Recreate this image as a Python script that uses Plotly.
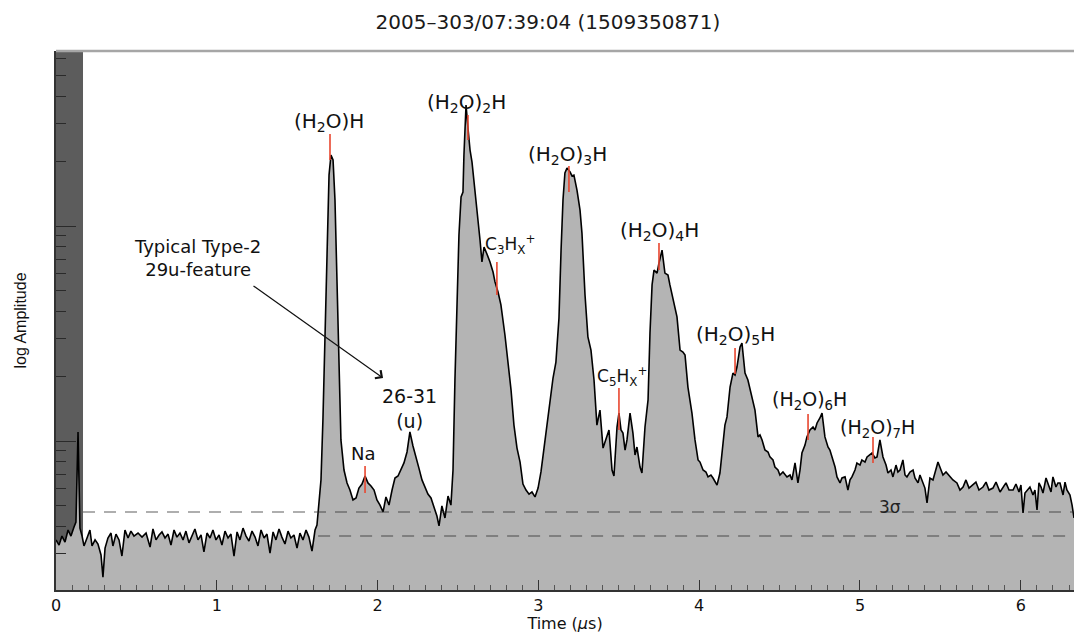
import math
import plotly.graph_objects as go

# ---------------- data ----------------
time_us = [
    0.000, 0.019, 0.037, 0.056, 0.075, 0.093, 0.112, 0.124, 0.137, 0.149, 0.162, 0.174, 0.193, 0.211, 0.224,
    0.243, 0.261, 0.280, 0.292, 0.305, 0.323, 0.342, 0.354, 0.373, 0.392, 0.410, 0.429, 0.448, 0.466, 0.485,
    0.510, 0.535, 0.560, 0.585, 0.603, 0.622, 0.641, 0.659, 0.678, 0.697, 0.715, 0.734, 0.752, 0.771, 0.790,
    0.808, 0.827, 0.846, 0.864, 0.883, 0.902, 0.920, 0.939, 0.958, 0.976, 0.995, 1.014, 1.032, 1.051, 1.070,
    1.088, 1.107, 1.126, 1.144, 1.163, 1.182, 1.200, 1.219, 1.238, 1.256, 1.275, 1.294, 1.312, 1.331, 1.350,
    1.368, 1.387, 1.405, 1.424, 1.443, 1.461, 1.480, 1.499, 1.517, 1.536, 1.555, 1.573, 1.592, 1.611, 1.623,
    1.636, 1.648, 1.660, 1.673, 1.685, 1.698, 1.710, 1.723, 1.735, 1.748, 1.760, 1.772, 1.791, 1.810, 1.828,
    1.847, 1.866, 1.884, 1.903, 1.922, 1.940, 1.959, 1.978, 1.996, 2.015, 2.034, 2.052, 2.071, 2.090, 2.108,
    2.127, 2.146, 2.164, 2.183, 2.201, 2.220, 2.239, 2.257, 2.276, 2.295, 2.313, 2.332, 2.351, 2.369, 2.382,
    2.400, 2.419, 2.438, 2.456, 2.469, 2.481, 2.494, 2.506, 2.519, 2.531, 2.537, 2.550, 2.562, 2.575, 2.587,
    2.606, 2.624, 2.637, 2.649, 2.662, 2.680, 2.699, 2.718, 2.730, 2.749, 2.767, 2.792, 2.811, 2.830, 2.848,
    2.867, 2.886, 2.904, 2.923, 2.942, 2.960, 2.979, 2.998, 3.016, 3.035, 3.053, 3.072, 3.091, 3.109, 3.128,
    3.141, 3.153, 3.165, 3.178, 3.197, 3.209, 3.221, 3.240, 3.259, 3.271, 3.290, 3.308, 3.327, 3.346, 3.364,
    3.383, 3.402, 3.420, 3.439, 3.458, 3.470, 3.489, 3.501, 3.514, 3.526, 3.539, 3.551, 3.570, 3.588, 3.601,
    3.613, 3.632, 3.644, 3.663, 3.682, 3.694, 3.707, 3.719, 3.738, 3.750, 3.769, 3.787, 3.806, 3.818, 3.837,
    3.862, 3.881, 3.899, 3.912, 3.930, 3.955, 3.974, 3.993, 4.005, 4.024, 4.042, 4.055, 4.073, 4.086, 4.111,
    4.129, 4.148, 4.160, 4.173, 4.192, 4.210, 4.223, 4.235, 4.254, 4.266, 4.279, 4.285, 4.303, 4.328, 4.347,
    4.366, 4.378, 4.391, 4.409, 4.428, 4.440, 4.459, 4.471, 4.490, 4.502, 4.521, 4.546, 4.565, 4.577, 4.596,
    4.614, 4.627, 4.639, 4.658, 4.670, 4.689, 4.708, 4.720, 4.733, 4.751, 4.764, 4.782, 4.801, 4.813, 4.832,
    4.845, 4.857, 4.876, 4.888, 4.907, 4.925, 4.938, 4.950, 4.969, 4.981, 5.000, 5.012, 5.031, 5.044, 5.062,
    5.075, 5.093, 5.106, 5.124, 5.137, 5.143, 5.162, 5.174, 5.193, 5.205, 5.224, 5.236, 5.249, 5.267, 5.280,
    5.292, 5.311, 5.330, 5.342, 5.361, 5.373, 5.386, 5.404, 5.417, 5.435, 5.454, 5.473, 5.485, 5.504, 5.516,
    5.535, 5.560, 5.578, 5.603, 5.622, 5.641, 5.659, 5.678, 5.703, 5.721, 5.740, 5.765, 5.784, 5.802, 5.827,
    5.846, 5.871, 5.889, 5.908, 5.927, 5.952, 5.970, 5.989, 6.001, 6.014, 6.026, 6.045, 6.057, 6.076, 6.088,
    6.101, 6.113, 6.126, 6.138, 6.157, 6.175, 6.188, 6.200, 6.219, 6.231, 6.244, 6.263, 6.275, 6.287, 6.306,
    6.319, 6.331,
]

log_amplitude = [
    0.540, 0.516, 0.558, 0.530, 0.586, 0.558, 0.600, 0.623, 1.042, 0.595, 0.558, 0.512, 0.549, 0.586, 0.512,
    0.540, 0.521, 0.470, 0.367, 0.502, 0.549, 0.572, 0.512, 0.567, 0.540, 0.465, 0.586, 0.549, 0.581, 0.558,
    0.572, 0.553, 0.572, 0.507, 0.591, 0.540, 0.563, 0.577, 0.549, 0.567, 0.516, 0.586, 0.553, 0.572, 0.540,
    0.581, 0.526, 0.558, 0.591, 0.540, 0.563, 0.484, 0.572, 0.549, 0.586, 0.540, 0.563, 0.516, 0.581, 0.549,
    0.567, 0.465, 0.577, 0.540, 0.595, 0.558, 0.535, 0.581, 0.553, 0.512, 0.586, 0.549, 0.567, 0.479, 0.577,
    0.540, 0.591, 0.553, 0.521, 0.581, 0.549, 0.563, 0.502, 0.572, 0.540, 0.586, 0.553, 0.488, 0.586, 0.609,
    0.702, 0.819, 1.098, 1.516, 1.935, 2.237, 2.330, 2.307, 2.121, 1.749, 1.284, 1.005, 0.865, 0.805, 0.772,
    0.726, 0.735, 0.781, 0.800, 0.837, 0.805, 0.791, 0.772, 0.726, 0.702, 0.670, 0.740, 0.702, 0.772, 0.828,
    0.837, 0.870, 0.898, 0.949, 1.042, 0.977, 0.930, 0.874, 0.819, 0.781, 0.753, 0.735, 0.688, 0.651, 0.605,
    0.698, 0.642, 0.744, 0.702, 0.865, 1.284, 1.702, 1.958, 2.135, 2.158, 2.330, 2.563, 2.456, 2.353, 2.298,
    2.167, 2.051, 1.935, 1.833, 1.902, 1.870, 1.833, 1.786, 1.740, 1.693, 1.633, 1.493, 1.377, 1.237, 1.074,
    0.967, 0.902, 0.800, 0.772, 0.753, 0.763, 0.740, 0.781, 0.856, 0.967, 1.074, 1.191, 1.293, 1.367, 1.572,
    1.888, 2.121, 2.247, 2.270, 2.251, 2.233, 2.237, 2.167, 2.074, 1.967, 1.679, 1.484, 1.423, 1.284, 1.074,
    1.144, 0.967, 1.005, 1.051, 0.865, 0.837, 1.065, 1.130, 1.051, 1.037, 0.958, 1.005, 1.130, 1.037, 0.935,
    0.972, 0.879, 0.851, 1.065, 1.191, 1.502, 1.726, 1.795, 1.781, 1.828, 1.888, 1.781, 1.772, 1.726, 1.656,
    1.577, 1.423, 1.414, 1.400, 1.251, 1.130, 1.005, 0.912, 0.902, 0.865, 0.856, 0.833, 0.842, 0.828, 0.795,
    0.851, 1.005, 1.074, 1.112, 1.251, 1.316, 1.307, 1.344, 1.437, 1.456, 1.377, 1.316, 1.284, 1.205, 1.144,
    1.019, 1.028, 1.005, 0.958, 0.949, 0.926, 0.912, 0.879, 0.865, 0.842, 0.856, 0.833, 0.842, 0.819, 0.898,
    0.805, 0.865, 0.944, 0.981, 1.019, 1.051, 1.065, 1.051, 1.084, 1.107, 1.130, 1.019, 0.972, 0.958, 0.912,
    0.879, 0.833, 0.805, 0.828, 0.833, 0.772, 0.819, 0.833, 0.865, 0.898, 0.888, 0.912, 0.902, 0.926, 0.935,
    0.944, 0.921, 0.926, 1.005, 0.958, 0.926, 0.888, 0.851, 0.865, 0.833, 0.888, 0.856, 0.865, 0.912, 0.842,
    0.833, 0.856, 0.865, 0.828, 0.805, 0.842, 0.819, 0.781, 0.712, 0.828, 0.819, 0.865, 0.902, 0.865, 0.842,
    0.856, 0.833, 0.819, 0.805, 0.772, 0.786, 0.819, 0.781, 0.795, 0.809, 0.772, 0.786, 0.809, 0.772, 0.781,
    0.809, 0.763, 0.786, 0.805, 0.772, 0.772, 0.800, 0.763, 0.795, 0.665, 0.758, 0.777, 0.786, 0.749, 0.772,
    0.679, 0.805, 0.786, 0.758, 0.828, 0.795, 0.763, 0.833, 0.786, 0.805, 0.805, 0.749, 0.809, 0.772, 0.749,
    0.702, 0.642,
]

peak_labels = [
    "(H<sub>2</sub>O)H", "(H<sub>2</sub>O)<sub>2</sub>H", "(H<sub>2</sub>O)<sub>3</sub>H",
    "(H<sub>2</sub>O)<sub>4</sub>H", "(H<sub>2</sub>O)<sub>5</sub>H", "(H<sub>2</sub>O)<sub>6</sub>H",
    "(H<sub>2</sub>O)<sub>7</sub>H", "Na", "C<sub>3</sub>H<sub>X</sub><sup>+</sup>",
    "C<sub>5</sub>H<sub>X</sub><sup>+</sup>",
]
peak_times = [1.704, 2.562, 3.190, 3.750, 4.223, 4.677, 5.081, 1.922, 2.742, 3.501]
peak_mark_top = [2.428, 2.516, 2.279, 1.921, 1.433, 1.126, 1.019, 0.884, 1.833, 1.247]
peak_mark_bottom = [2.307, 2.400, 2.158, 1.795, 1.312, 1.005, 0.898, 0.758, 1.679, 1.051]

three_sigma_level = 0.670
lower_level = 0.558
x_ticks = [0, 1, 2, 3, 4, 5, 6]

# ---------------- figure ----------------
fig = go.Figure()
fig.add_trace(go.Scatter(
    x=time_us, y=log_amplitude, mode="lines",
    line=dict(color="black", width=1.6),
    fill="tozeroy", fillcolor="#b4b4b4",
    hoverinfo="skip", showlegend=False,
))

shapes = []
# dark band at the start of the record
shapes.append(dict(type="rect", xref="x", yref="paper", x0=0, x1=0.168, y0=0, y1=1,
                   fillcolor="#5c5c5c", line=dict(width=0), layer="below"))
# top frame line
shapes.append(dict(type="line", xref="paper", yref="paper", x0=0, x1=1, y0=1, y1=1,
                   line=dict(color="#a6a6a6", width=2.5)))
# dashed threshold lines
shapes.append(dict(type="line", xref="x", yref="y", x0=0.168, x1=6.331,
                   y0=three_sigma_level, y1=three_sigma_level,
                   line=dict(color="rgba(40,40,40,0.5)", width=1.5, dash="12px,9px")))
shapes.append(dict(type="line", xref="x", yref="y", x0=1.63, x1=6.331,
                   y0=lower_level, y1=lower_level,
                   line=dict(color="rgba(40,40,40,0.5)", width=1.5, dash="12px,9px")))
# red peak markers
for t, top, bot in zip(peak_times, peak_mark_top, peak_mark_bottom):
    shapes.append(dict(type="line", xref="x", yref="y", x0=t, x1=t, y0=bot, y1=top,
                       line=dict(color="#e8462f", width=1.6), layer="above"))

annotations = []
label_pos = {
    0: (1.698, 2.484, 20), 1: (2.550, 2.572, 20), 2: (3.184, 2.330, 20),
    3: (3.756, 1.977, 20), 4: (4.223, 1.493, 20), 5: (4.683, 1.190, 19),
    6: (5.112, 1.060, 19), 7: (1.915, 0.944, 18), 8: (2.823, 1.912, 17),
    9: (3.520, 1.302, 17),
}
for i, lab in enumerate(peak_labels):
    lx, ly, fs = label_pos[i]
    annotations.append(dict(x=lx, y=ly, xref="x", yref="y", text=lab, showarrow=False,
                            font=dict(family="DejaVu Sans", size=fs, color="#111111"),
                            xanchor="center", yanchor="middle"))
annotations.append(dict(x=5.187, y=0.693, xref="x", yref="y", text="3σ", showarrow=False,
                        font=dict(family="DejaVu Sans", size=17, color="#222222")))
annotations.append(dict(x=0.883, y=1.851, xref="x", yref="y",
                        text="Typical Type-2<br>29u-feature", showarrow=False,
                        font=dict(family="DejaVu Sans", size=18, color="#111111")))
annotations.append(dict(x=2.201, y=1.153, xref="x", yref="y",
                        text="26-31<br>(u)", showarrow=False,
                        font=dict(family="DejaVu Sans", size=19, color="#111111")))
annotations.append(dict(x=2.034, y=1.293, xref="x", yref="y",
                        ax=1.219, ay=1.726, axref="x", ayref="y",
                        text="", showarrow=True, arrowhead=4, arrowsize=1.6,
                        arrowwidth=1.2, arrowcolor="#111111"))

minor_y = [n + math.log10(k) for n in range(0, 3) for k in range(2, 10)]

fig.update_layout(
    width=1074, height=633,
    margin=dict(l=56, r=0, t=51, b=43),
    paper_bgcolor="white", plot_bgcolor="white",
    title=dict(text="2005–303/07:39:04 (1509350871)",
               font=dict(family="DejaVu Sans", size=20, color="#1a1a1a"),
               x=0.5102, xanchor="center", y=0.965, yanchor="middle"),
    shapes=shapes, annotations=annotations,
    xaxis=dict(range=[0, 6.331], showgrid=False, zeroline=False,
               showline=True, linecolor="#333333", linewidth=1.5,
               tickmode="array", tickvals=x_ticks, ticktext=[str(v) for v in x_ticks],
               ticks="inside", ticklen=10, tickcolor="#333333", tickwidth=1,
               minor=dict(ticks="inside", ticklen=5, dtick=0.1, tick0=0,
                          tickcolor="#555555", tickwidth=1),
               tickfont=dict(family="DejaVu Sans", size=16, color="#111111"),
               title=dict(text="Time (<i>µ</i>s)", standoff=3,
                          font=dict(family="DejaVu Sans", size=16, color="#111111"))),
    yaxis=dict(range=[0.307, 2.814], showgrid=False, zeroline=False,
               showline=True, linecolor="#333333", linewidth=1.5,
               showticklabels=False,
               tickmode="array", tickvals=[1, 2],
               ticks="inside", ticklen=20, tickcolor="#2a2a2a", tickwidth=1.2,
               minor=dict(ticks="inside", ticklen=10, tickmode="array", tickvals=minor_y,
                          tickcolor="#2a2a2a", tickwidth=1.2),
               title=dict(text="log Amplitude", standoff=24,
                          font=dict(family="Liberation Sans", size=16, color="#111111"))),
)

fig.write_html("out.html")
